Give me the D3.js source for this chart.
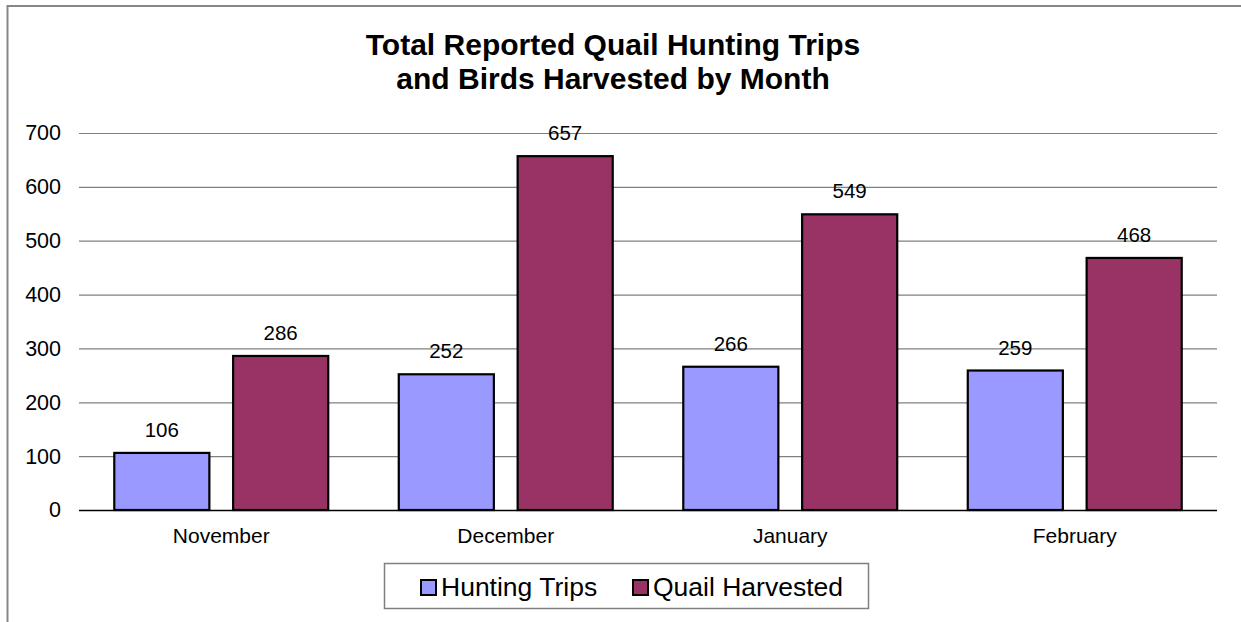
<!DOCTYPE html>
<html>
<head>
<meta charset="utf-8">
<script src="https://cdn.jsdelivr.net/npm/d3@7"></script>
<style>
  body { margin: 0; background: #fff; }
  text { font-family: Arial, "Liberation Sans", sans-serif; fill: #000; }
</style>
</head>
<body>
<div id="chart"></div>
<script>
const months = ["November", "December", "January", "February"];
const seriesNames = ["Hunting Trips", "Quail Harvested"];
const huntingTrips = [106, 252, 266, 259];
const quailHarvested = [286, 657, 549, 468];
const yTicks = [0, 100, 200, 300, 400, 500, 600, 700];
const colors = ["#9999FF", "#993366"];

/**
 * set the dimensions and margins of the graph
 * @return {Object} plot area bounds
 */
function graphDimensions() {
    return {left: 79, right: 1217, top: 133, bottom: 510};
}

/**
 * Appends svg to the dom, with the outer gray frame.
 */
function appendToDom() {
    const svg = d3.select("#chart").append("svg")
        .attr("width", 1241)
        .attr("height", 622);
    svg.append("rect")
        .attr("x", 7.5).attr("y", 6)
        .attr("width", 1260).attr("height", 640)
        .attr("fill", "#fff")
        .attr("stroke", "#878787")
        .attr("stroke-width", 2);
    return svg;
}

/**
 * Sets the name of the graph.
 */
function graphTitle(svg) {
    const t = svg.append("text")
        .attr("text-anchor", "middle")
        .style("font-size", "30px")
        .style("font-weight", "bold");
    t.append("tspan").attr("x", 613).attr("y", 55).text("Total Reported Quail Hunting Trips");
    t.append("tspan").attr("x", 613).attr("y", 89).text("and Birds Harvested by Month");
}

/**
 * Draws the gridlines and the y axis labels.
 */
function drawYAxis(svg, y, dim) {
    const axis = svg.append("g")
        .attr("class", "axis axis--y")
        .attr("transform", "translate(" + dim.left + ",0)")
        .call(d3.axisLeft(y).tickValues(yTicks).tickSize(-(dim.right - dim.left)).tickPadding(18));
    axis.select(".domain").remove();
    axis.selectAll(".tick line")
        .attr("stroke", d => d === 0 ? "#000" : "#808080")
        .attr("stroke-width", d => d === 0 ? 1.5 : 1.2);
    axis.selectAll(".tick text")
        .attr("fill", "#000")
        .style("font-size", "21.5px")
        .style("font-family", "Arial, 'Liberation Sans', sans-serif");
}

/**
 * Draws the x axis category labels.
 */
function drawXAxis(svg, x0) {
    svg.append("g")
        .selectAll("text")
        .data(months)
        .enter()
        .append("text")
        .attr("x", d => x0(d) + x0.bandwidth() / 2)
        .attr("y", 543)
        .attr("text-anchor", "middle")
        .style("font-size", "21px")
        .text(d => d);
}

/**
 * plot the bars and their value labels
 */
function drawBars(svg, x0, x1, y) {
    const rows = months.map((m, i) => ({month: m, values: [huntingTrips[i], quailHarvested[i]]}));
    const groups = svg.selectAll(".group")
        .data(rows)
        .enter()
        .append("g")
        .attr("transform", d => "translate(" + x0(d.month) + ",0)");
    const cells = groups.selectAll("g")
        .data(d => d.values.map((v, j) => ({series: seriesNames[j], value: v, j: j})))
        .enter()
        .append("g");
    cells.append("rect")
        .attr("x", d => x1(d.series))
        .attr("y", d => y(d.value))
        .attr("width", x1.bandwidth())
        .attr("height", d => y(0) - y(d.value))
        .attr("fill", d => colors[d.j])
        .attr("stroke", "#000")
        .attr("stroke-width", 2.2);
    cells.append("text")
        .attr("x", d => x1(d.series) + x1.bandwidth() / 2)
        .attr("y", d => y(d.value) - 16)
        .attr("text-anchor", "middle")
        .style("font-size", "20.5px")
        .text(d => d.value);
}

/**
 * Draws the legend box at the bottom.
 */
function drawLegend(svg) {
    const g = svg.append("g");
    g.append("rect")
        .attr("x", 384.5).attr("y", 563.5)
        .attr("width", 484).attr("height", 45)
        .attr("fill", "#fff")
        .attr("stroke", "#808080")
        .attr("stroke-width", 1.5);
    const xs = [421, 633];
    seriesNames.forEach((name, i) => {
        g.append("rect")
            .attr("x", xs[i]).attr("y", 580)
            .attr("width", 15).attr("height", 15)
            .attr("fill", colors[i])
            .attr("stroke", "#000")
            .attr("stroke-width", 2);
        g.append("text")
            .attr("x", xs[i] + 20)
            .attr("y", 596)
            .style("font-size", "26.5px")
            .text(name);
    });
}

function drawGraph() {
    const dim = graphDimensions();
    const svg = appendToDom();
    const x0 = d3.scaleBand().domain(months).range([dim.left, dim.right])
        .paddingInner(0.248).paddingOuter(0.124);
    const x1 = d3.scaleBand().domain(seriesNames).range([0, x0.bandwidth()])
        .paddingInner(0.2);
    const y = d3.scaleLinear().domain([0, 700]).range([dim.bottom, dim.top]);
    graphTitle(svg);
    drawYAxis(svg, y, dim);
    drawBars(svg, x0, x1, y);
    drawXAxis(svg, x0);
    drawLegend(svg);
}

drawGraph();
</script>
</body>
</html>
